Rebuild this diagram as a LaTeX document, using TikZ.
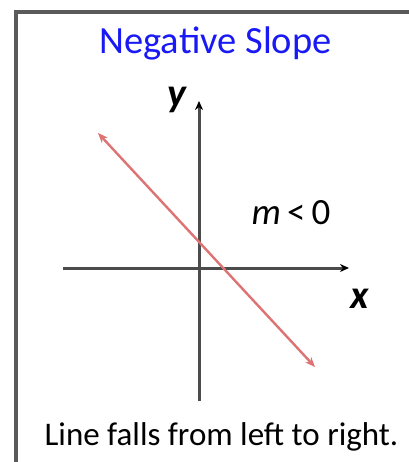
\documentclass[tikz,border=0pt]{standalone}
\usepackage{fontspec}
\setmainfont{Carlito}
\usetikzlibrary{arrows.meta}
\definecolor{titleblue}{RGB}{25,25,245}
\definecolor{slopered}{RGB}{222,115,115}
\definecolor{framegray}{RGB}{90,90,90}
\definecolor{axisgray}{RGB}{75,75,75}
\begin{document}
\begin{tikzpicture}[x=1pt,y=-1pt,
  frameline/.style={draw=framegray,line width=4pt},
  axisline/.style={draw=axisgray,line width=3pt,-{Stealth[length=9pt,width=8pt,black]}},
  slopeline/.style={draw=slopered,line width=2.4pt,{Stealth[length=10pt,width=8pt]}-{Stealth[length=10pt,width=8pt]}},
  lbl/.style={inner sep=0pt,anchor=center}]
\useasboundingbox (0,0) rectangle (408,462);
\fill[white] (0,0) rectangle (408,462);
% frame
\coordinate (fbl) at (16,464);
\coordinate (ftl) at (16,12);
\coordinate (ftr) at (410,12);
\draw[frameline] (fbl) -- (ftl) -- (ftr);
% title
\node[lbl,text=titleblue,font=\fontsize{38.5}{40}\selectfont] (title) at (215.5,43) {Negative Slope};
% axes
\coordinate (ybot) at (199,401);
\coordinate (ytop) at (199,101);
\coordinate (xleft) at (63,268);
\coordinate (xright) at (349,268);
\draw[axisline] (ybot) -- (ytop);
\draw[axisline] (xleft) -- (xright);
\node[lbl,font=\bfseries\itshape\fontsize{40}{40}\selectfont] (ylab) at (177,100) {y};
\node[lbl,font=\bfseries\itshape\fontsize{40}{40}\selectfont] (xlab) at (360,299) {x};
% slope line
\coordinate (lstart) at (98,133);
\coordinate (lend) at (315,367);
\draw[slopeline] (lstart) -- (lend);
\node[lbl,font=\fontsize{37}{37}\selectfont] (mlab) at (291,213) {\textit{m}\,{<}\,0};
% caption
\node[lbl,font=\fontsize{33}{36}\selectfont] (cap) at (221.5,437) {Line falls from left to right.};
\end{tikzpicture}
\end{document}
